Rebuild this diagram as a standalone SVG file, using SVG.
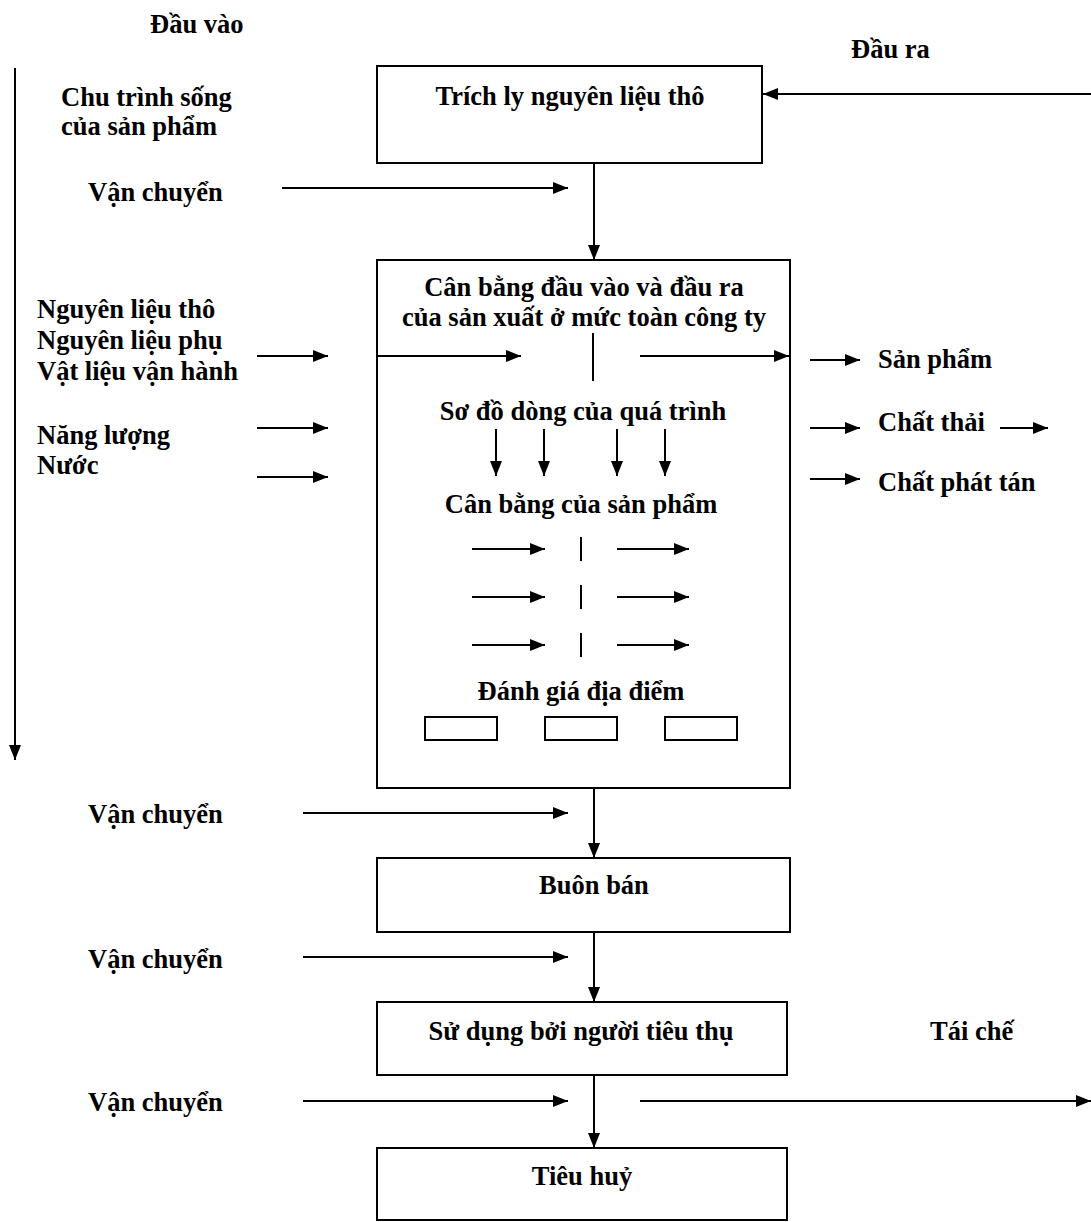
<svg xmlns="http://www.w3.org/2000/svg" width="1091" height="1222" viewBox="0 0 1091 1222">
  <style>
    text { font-family: "Liberation Serif", "Times New Roman", "DejaVu Serif", serif; font-weight: 700; font-size: 26.5px; fill: #000; }
    .c { text-anchor: middle; }
    .box { fill: #fff; stroke: #000; stroke-width: 2; }
    .ln { stroke: #000; stroke-width: 2; fill: none; }
    .ar { stroke: #000; stroke-width: 2; fill: none; marker-end: url(#head); }
  </style>
  <defs>
    <marker id="head" markerUnits="userSpaceOnUse" markerWidth="15" markerHeight="12" refX="15" refY="6" orient="auto">
      <path d="M0,0 L15,6 L0,12 z" fill="#000"/>
    </marker>
  </defs>
  <rect width="1091" height="1222" fill="#fff"/>

  <!-- headings and side labels -->
  <g id="labels">
    <text x="150" y="33">Đầu vào</text>
    <text x="851" y="58">Đầu ra</text>
    <text x="61" y="106">Chu trình sống</text>
    <text x="61" y="135">của sản phẩm</text>
    <text x="88" y="201">Vận chuyển</text>
    <text x="37" y="318">Nguyên liệu thô</text>
    <text x="37" y="349">Nguyên liệu phụ</text>
    <text x="37" y="380">Vật liệu vận hành</text>
    <text x="37" y="444">Năng lượng</text>
    <text x="37" y="474">Nước</text>
    <text x="878" y="368">Sản phẩm</text>
    <text x="878" y="431">Chất thải</text>
    <text x="878" y="491">Chất phát tán</text>
    <text x="88" y="823">Vận chuyển</text>
    <text x="88" y="968">Vận chuyển</text>
    <text x="930" y="1040">Tái chế</text>
    <text x="88" y="1111">Vận chuyển</text>
  </g>

  <!-- raw material extraction -->
  <g id="extraction">
    <rect class="box" x="377" y="66" width="385" height="97"/>
    <text class="c" x="570" y="105">Trích ly nguyên liệu thô</text>
  </g>

  <!-- company-level balance block -->
  <g id="company-balance">
    <rect class="box" x="377" y="260" width="413" height="528"/>
    <text class="c" x="584" y="296">Cân bằng đầu vào và đầu ra</text>
    <text class="c" x="584" y="326">của sản xuất ở mức toàn công ty</text>
    <text class="c" x="583" y="420">Sơ đồ dòng của quá trình</text>
    <text class="c" x="581" y="513">Cân bằng của sản phẩm</text>
    <text class="c" x="581" y="700">Đánh giá địa điểm</text>
    <rect class="box" x="425" y="717" width="72" height="23"/>
    <rect class="box" x="545" y="717" width="72" height="23"/>
    <rect class="box" x="665" y="717" width="72" height="23"/>
  </g>

  <g id="trade">
    <rect class="box" x="377" y="858" width="413" height="74"/>
    <text class="c" x="594" y="894">Buôn bán</text>
  </g>

  <g id="consumer-use">
    <rect class="box" x="377" y="1002" width="410" height="73"/>
    <text class="c" x="581" y="1040">Sử dụng bởi người tiêu thụ</text>
  </g>

  <g id="disposal">
    <rect class="box" x="377" y="1148" width="410" height="72"/>
    <text class="c" x="582" y="1185">Tiêu huỷ</text>
  </g>

  <!-- connectors -->
  <g id="connectors">
    <!-- life cycle direction -->
    <line class="ar" x1="15" y1="68" x2="15" y2="760"/>
    <!-- return flow into extraction -->
    <line class="ar" x1="1091" y1="94" x2="763" y2="94"/>
    <!-- transport arrows -->
    <line class="ar" x1="282" y1="188" x2="568" y2="188"/>
    <line class="ar" x1="303" y1="813" x2="568" y2="813"/>
    <line class="ar" x1="303" y1="957" x2="568" y2="957"/>
    <line class="ar" x1="303" y1="1101" x2="568" y2="1101"/>
    <!-- main chain -->
    <line class="ar" x1="594" y1="163" x2="594" y2="260"/>
    <line class="ar" x1="594" y1="788" x2="594" y2="858"/>
    <line class="ar" x1="594" y1="932" x2="594" y2="1002"/>
    <line class="ar" x1="594" y1="1075" x2="594" y2="1148"/>
    <!-- recycling -->
    <line class="ar" x1="640" y1="1101" x2="1091" y2="1101"/>
    <!-- inputs -->
    <line class="ar" x1="257" y1="356" x2="328" y2="356"/>
    <line class="ar" x1="257" y1="428" x2="328" y2="428"/>
    <line class="ar" x1="257" y1="477" x2="328" y2="477"/>
    <!-- outputs -->
    <line class="ar" x1="810" y1="360" x2="860" y2="360"/>
    <line class="ar" x1="810" y1="428" x2="860" y2="428"/>
    <line class="ar" x1="1000" y1="428" x2="1048" y2="428"/>
    <line class="ar" x1="810" y1="479" x2="860" y2="479"/>
    <!-- inside company block -->
    <line class="ar" x1="377" y1="356" x2="521" y2="356"/>
    <line class="ln" x1="593" y1="333" x2="593" y2="381"/>
    <line class="ar" x1="640" y1="356" x2="789" y2="356"/>
    <line class="ar" x1="496" y1="429" x2="496" y2="476"/>
    <line class="ar" x1="544" y1="429" x2="544" y2="476"/>
    <line class="ar" x1="617" y1="429" x2="617" y2="476"/>
    <line class="ar" x1="665" y1="429" x2="665" y2="476"/>
    <line class="ar" x1="472" y1="549" x2="545" y2="549"/>
    <line class="ln" x1="581" y1="537" x2="581" y2="561"/>
    <line class="ar" x1="617" y1="549" x2="689" y2="549"/>
    <line class="ar" x1="472" y1="597" x2="545" y2="597"/>
    <line class="ln" x1="581" y1="585" x2="581" y2="609"/>
    <line class="ar" x1="617" y1="597" x2="689" y2="597"/>
    <line class="ar" x1="472" y1="645" x2="545" y2="645"/>
    <line class="ln" x1="581" y1="633" x2="581" y2="657"/>
    <line class="ar" x1="617" y1="645" x2="689" y2="645"/>
  </g>
</svg>
